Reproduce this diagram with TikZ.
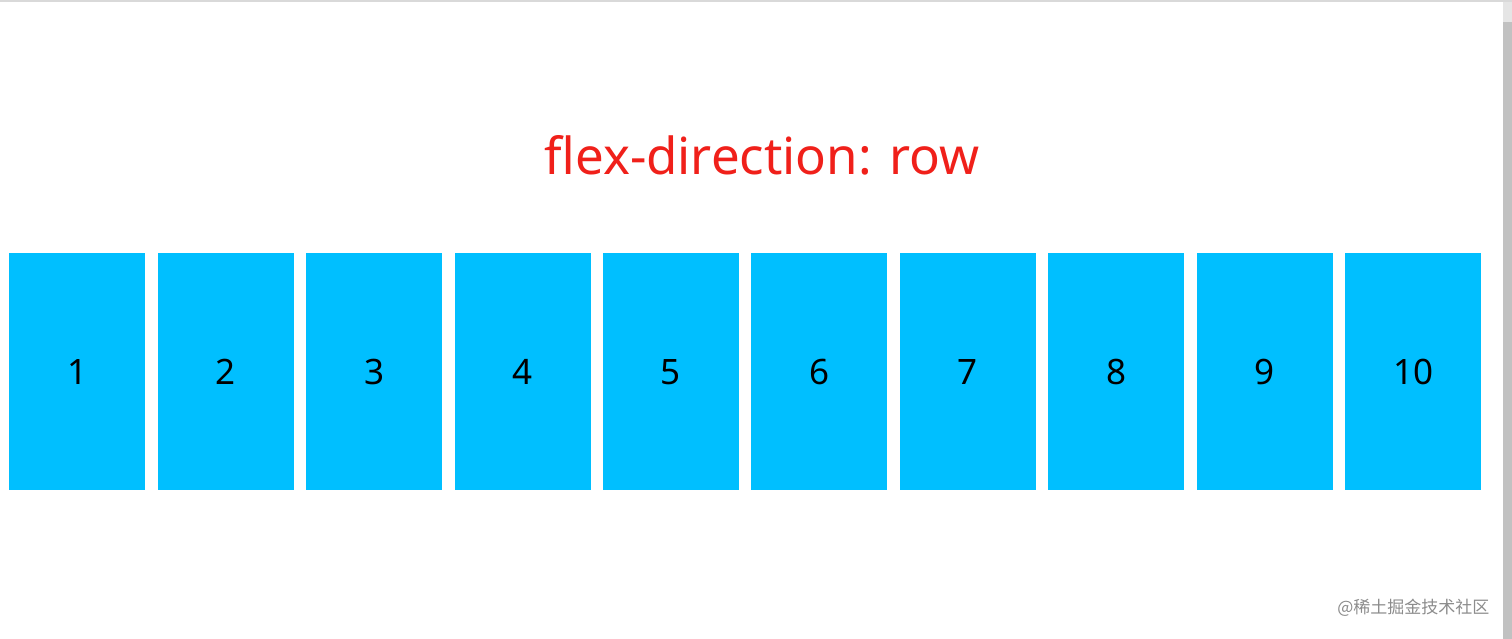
\documentclass[tikz,border=0pt]{standalone}
\usepackage{fontspec}
\setmainfont{Noto Sans}
\newfontfamily\cjk{Noto Sans CJK SC}
\definecolor{boxblue}{HTML}{00BFFF}
\definecolor{titlered}{HTML}{F0201A}
\definecolor{sbar}{HTML}{C1C1C1}
\begin{document}
\begin{tikzpicture}[x=1pt,y=-1pt,
  item/.style={fill=boxblue,draw=none,minimum width=136pt,minimum height=237pt,inner sep=0pt,anchor=north west,font=\fontsize{35}{40}\selectfont}]
\useasboundingbox (0,0) rectangle (1512,639);
\fill[white] (0,0) rectangle (1512,639);
\draw[line width=2pt,draw=black!15] (0,1) -- (1512,1);
\fill[sbar] (1503,22) rectangle (1512,639);
\fill[black!10] (1503,2) rectangle (1512,22);
\node[text=titlered,font=\fontsize{51}{60}\selectfont] (title) at (762,155) {flex-direction: row};
\foreach \i in {1,...,10}{
  \node[item] (b\i) at ({9+(\i-1)*148.44},253) {\i};
}
\node[anchor=east,text=black!45,font=\cjk\fontsize{17}{20}\selectfont] (wm) at (1493,608) {@稀土掘金技术社区};
\end{tikzpicture}
\end{document}
